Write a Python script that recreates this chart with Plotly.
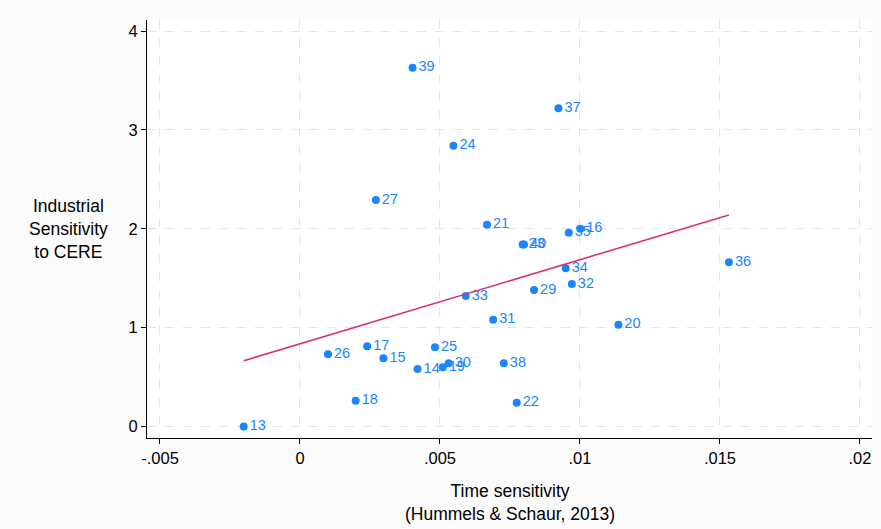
import numpy as np
import plotly.graph_objects as go

labels = ["13", "14", "15", "16", "17", "18", "19", "20", "21", "22", "23", "24", "25", "26",
          "27", "29", "30", "31", "32", "33", "34", "35", "36", "37", "38", "39", "40"]
time_sens = [-0.00201, 0.00420, 0.00298, 0.01001, 0.00240, 0.00199, 0.00510, 0.01137, 0.00668,
             0.00774, 0.00795, 0.00548, 0.00482, 0.00100, 0.00271, 0.00836, 0.00531, 0.00690,
             0.00971, 0.00592, 0.00949, 0.00960, 0.01532, 0.00923, 0.00728, 0.00402, 0.00800]
cere_sens = [0.00, 0.58, 0.69, 2.00, 0.81, 0.26, 0.60, 1.03, 2.04, 0.24, 1.84, 2.84, 0.80, 0.73,
             2.29, 1.38, 0.64, 1.08, 1.44, 1.32, 1.60, 1.96, 1.66, 3.22, 0.64, 3.63, 1.84]

x_ticks = [-0.005, 0, 0.005, 0.01, 0.015, 0.02]
x_ticktext = ["-.005", "0", ".005", ".01", ".015", ".02"]
y_ticks = [0, 1, 2, 3, 4]

xa = np.array(time_sens)
ya = np.array(cere_sens)
slope, intercept = np.polyfit(xa, ya, 1)
fit_x = np.array([xa.min(), xa.max()])
fit_y = intercept + slope * fit_x

BLUE = "#1a85ff"
FONT = "Liberation Sans, Arial, sans-serif"

fig = go.Figure()
fig.add_trace(go.Scatter(
    x=time_sens, y=cere_sens, mode="markers+text", text=labels,
    textposition="middle right", textfont=dict(color=BLUE, size=14.5, family=FONT),
    marker=dict(color=BLUE, size=8), showlegend=False, cliponaxis=False,
))
fig.add_trace(go.Scatter(
    x=fit_x, y=fit_y, mode="lines", line=dict(color="#d6336c", width=1.6),
    showlegend=False,
))

fig.update_layout(
    width=881, height=529,
    margin=dict(l=147, r=9, t=20, b=91),
    paper_bgcolor="#fbfbfb", plot_bgcolor="#ffffff",
    font=dict(family=FONT, size=16.5, color="#000000"),
    xaxis=dict(
        range=[-0.005464, 0.020429], tickvals=x_ticks, ticktext=x_ticktext,
        showgrid=True, gridcolor="#e6e6e6", griddash="dash", gridwidth=1,
        zeroline=False, showline=True, linecolor="#000000", linewidth=1,
        ticks="outside", ticklen=5, tickcolor="#000000",
        tickfont=dict(size=16.5), automargin=False,
    ),
    yaxis=dict(
        range=[-0.117, 4.112], tickvals=y_ticks,
        showgrid=True, gridcolor="#e6e6e6", griddash="dash", gridwidth=1,
        zeroline=False, showline=True, linecolor="#000000", linewidth=1,
        ticks="outside", ticklen=5, tickcolor="#000000",
        tickfont=dict(size=16.5), automargin=False,
    ),
    annotations=[
        dict(text="Industrial<br>Sensitivity<br>to CERE", xref="paper", yref="y",
             x=-0.1076, y=2, xanchor="center", yanchor="middle", showarrow=False,
             font=dict(size=17.5, family=FONT), align="center"),
        dict(text="Time sensitivity<br>(Hummels & Schaur, 2013)", xref="paper", yref="paper",
             x=0.5, y=-0.097, xanchor="center", yanchor="top", showarrow=False,
             font=dict(size=17.5, family=FONT), align="center"),
    ],
)

fig.write_html("out.html", config={"displayModeBar": False},
               post_script="document.body.style.margin='0';document.body.style.background='#fbfbfb';")
